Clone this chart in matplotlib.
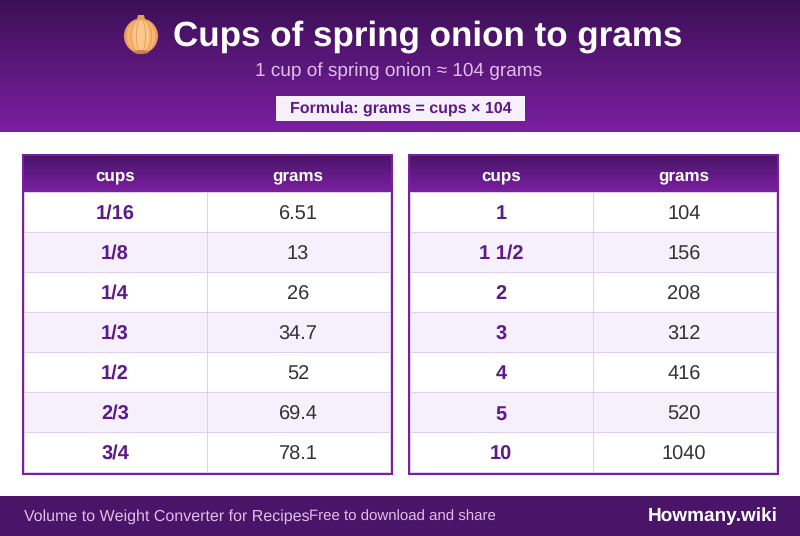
import numpy as np
import matplotlib
matplotlib.use("Agg")
import matplotlib.pyplot as plt
from matplotlib.colors import LinearSegmentedColormap
from matplotlib.patches import Rectangle, Ellipse, Polygon

plt.rcParams['font.family'] = ['Liberation Sans', 'DejaVu Sans']
plt.rcParams['text.hinting'] = 'none'
plt.rcParams['text.hinting_factor'] = 1

# Table contents
left_cups = ["1/16", "1/8", "1/4", "1/3", "1/2", "2/3", "3/4"]
left_grams = ["6.51", "13", "26", "34.7", "52", "69.4", "78.1"]
right_cups = ["1", "1 1/2", "2", "3", "4", "5", "10"]
right_grams = ["104", "156", "208", "312", "416", "520", "1040"]
col_labels = ["cups", "grams"]

title = "Cups of spring onion to grams"
subtitle = "1 cup of spring onion ≈ 104 grams"
formula = "Formula: grams = cups × 104"
footer_left = "Volume to Weight Converter for Recipes"
footer_mid = "Free to download and share"
footer_right = "Howmany.wiki"

# Colours
DARK = "#4a1568"
PURPLE = "#7b1fa2"
ROW_ALT = "#f5f0fb"
GRID = "#e1cfee"
TEXT = "#333333"
PX = 0.72  # css px to points at dpi 100

purple_cmap = LinearSegmentedColormap.from_list("purple", [DARK, PURPLE])
header_cmap = LinearSegmentedColormap.from_list("header", ["#3c1056", PURPLE])
grad = np.linspace(0, 1, 256).reshape(-1, 1)


def px_rect(ax, x, y, w, h, color, z):
    ax.add_patch(Rectangle((x, y), w, h, fc=color, ec="none", lw=0, antialiased=False, zorder=z))


def draw_table(ax, x0, cups, grams):
    width, divider = 371, 185
    top, head_h, row_h = 154, 38, 40
    rows = len(cups)
    body_top = top + head_h
    last = body_top + rows * row_h
    px_rect(ax, x0, top, width, last + 3 - top, PURPLE, 2)
    ax.imshow(grad, cmap=purple_cmap, extent=(x0 + 2, x0 + width - 2, body_top, top + 2),
              aspect="auto", zorder=3)
    xc = [x0 + 93, x0 + 276]
    for label, x in zip(col_labels, xc):
        ax.text(x, top + 26, label, color="white", fontsize=17 * PX, fontweight="bold",
                ha="center", va="baseline", zorder=5)
    for i, (c, g) in enumerate(zip(cups, grams)):
        y = body_top + i * row_h
        px_rect(ax, x0 + 2, y, width - 4, row_h, ROW_ALT if i % 2 else "white", 3)
        px_rect(ax, x0 + 2, y, width - 4, 1, GRID, 4)
        # the slash hangs below the baseline, which moves the text by a pixel
        base = 27 if "/" in c else 27.3
        ax.text(xc[0], y + base, c, color="#5c1a8a", fontsize=20 * PX, fontweight="bold",
                ha="center", va="baseline", zorder=5)
        ax.text(xc[1], y + 27.5, g, color=TEXT, fontsize=20 * PX,
                ha="center", va="baseline", zorder=5)
    # inner lines: bottom, divider, left and right edges
    px_rect(ax, x0 + 2, last, width - 4, 1, GRID, 4)
    for x in (x0 + divider, x0 + 2, x0 + width - 3):
        px_rect(ax, x, body_top, 1, last - body_top, GRID, 4)


def draw_onion(ax, cx, cy):
    # no emoji font available, so the onion is drawn from patches
    ax.add_patch(Polygon([(cx - 3, cy - 20), (cx + 3, cy - 20), (cx + 5, cy - 12), (cx - 5, cy - 12)],
                         fc="#e0a060", ec="none", zorder=3))
    ax.add_patch(Ellipse((cx, cy + 1), 34, 35, fc="#eda05e", ec="none", zorder=3))
    ax.add_patch(Ellipse((cx, cy + 1), 28, 34, fc="#f7b673", ec="none", zorder=3))
    ax.add_patch(Ellipse((cx, cy + 1), 16, 34, fc="#fcc98a", ec="none", zorder=3))
    for w in (31, 21, 9):
        ax.add_patch(Ellipse((cx, cy + 1), w, 34, fc="none", ec="#e8995a", lw=0.6, zorder=4))
    ax.add_patch(Ellipse((cx, cy + 17), 15, 4, fc="#c97f50", ec="none", zorder=4))


fig = plt.figure(figsize=(8, 5.36), dpi=100)
ax = fig.add_axes([0, 0, 1, 1])

# Header band
ax.imshow(grad, cmap=header_cmap, extent=(0, 800, 132, 0), aspect="auto", zorder=1)
draw_onion(ax, 141, 35)
ax.text(427.5, 45.5, title, color="white", fontsize=34.7 * PX, fontweight="bold",
        ha="center", va="baseline", zorder=5)
ax.text(399, 76, subtitle, color="#e1bee7", fontsize=19.4 * PX, ha="center", va="baseline", zorder=5)
px_rect(ax, 276, 96, 249, 25, ROW_ALT, 3)
ax.text(400.5, 113, formula, color="#5c1a8a", fontsize=15.85 * PX, fontweight="bold",
        ha="center", va="baseline", zorder=5)

draw_table(ax, 22, left_cups, left_grams)
draw_table(ax, 408, right_cups, right_grams)

# Footer
px_rect(ax, 0, 496, 800, 40, DARK, 2)
ax.text(24, 520.5, footer_left, color="#e1bee7", fontsize=15.8 * PX, ha="left", va="baseline", zorder=5)
ax.text(309, 521, footer_mid, color="#e1bee7", fontsize=14.5 * PX, ha="left", va="baseline", zorder=5)
ax.text(778, 521, footer_right, color="white", fontsize=19.4 * PX, fontweight="bold",
        ha="right", va="baseline", zorder=5)

ax.set_xlim(0, 800)
ax.set_ylim(536, 0)
ax.axis("off")
fig.savefig("out.png", dpi=100, facecolor="white")
plt.close(fig)
